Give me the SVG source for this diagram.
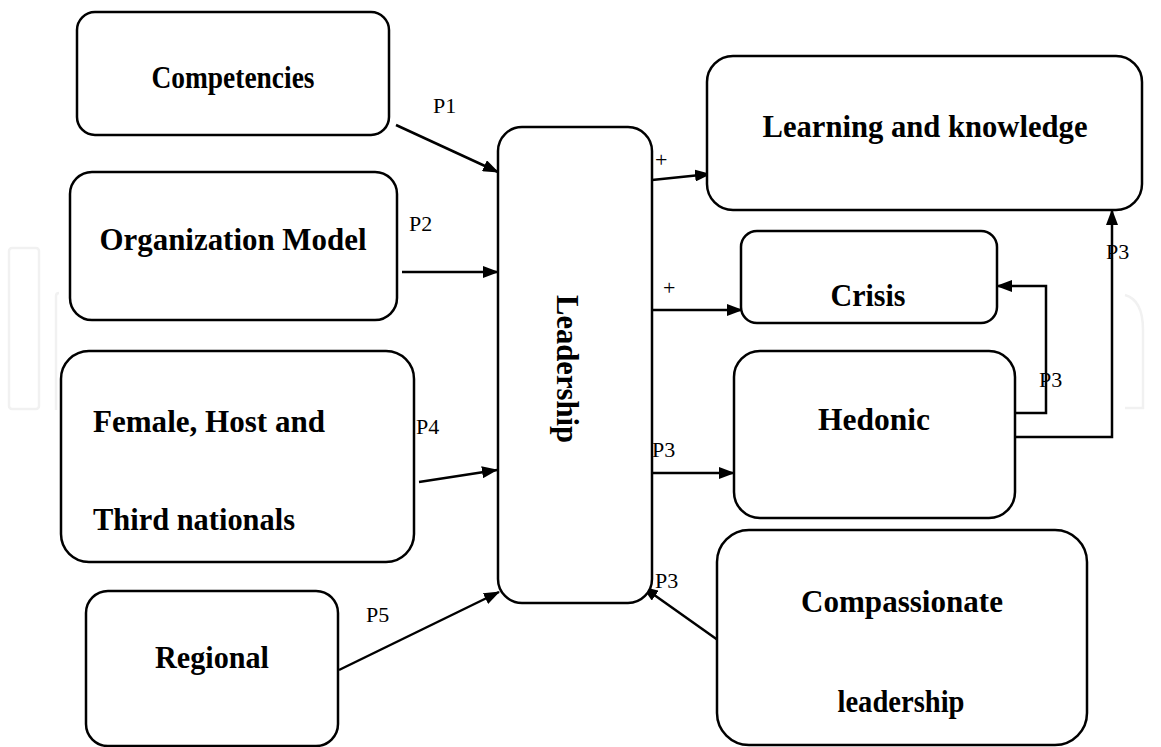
<svg xmlns="http://www.w3.org/2000/svg" width="1161" height="747" viewBox="0 0 1161 747">
  <style>
    .box { fill: #ffffff; stroke: #000000; stroke-width: 2.5; }
    .lbl { font-family: "Liberation Serif", "DejaVu Serif", "Noto Serif", serif; font-weight: bold; font-size: 32px; fill: #000000; }
    .mid { text-anchor: middle; }
    .tag { font-family: "Liberation Serif", "DejaVu Serif", "Noto Serif", serif; font-size: 22px; fill: #000000; }
    .wire { fill: none; stroke: #000000; stroke-width: 2.5; }
    .wm { fill: none; stroke: #f1f1f1; stroke-width: 2.5; }
  </style>
  <defs>
    <marker id="arrow" markerUnits="userSpaceOnUse" viewBox="0 0 16 12" markerWidth="16" markerHeight="12" refX="15" refY="6" orient="auto">
      <path d="M0,0 L16,6 L0,12 z" fill="#000000"/>
    </marker>
  </defs>

  <rect width="1161" height="747" fill="#ffffff"/>

  <!-- faint background logo strokes -->
  <g id="backdrop">
    <rect class="wm" x="9" y="248" width="30" height="161" rx="3"/>
    <path class="wm" d="M56,410 L56,296 Q56,293 59,293"/>
    <path class="wm" d="M1125,295 Q1143,300 1143,330 L1143,408 L1125,408"/>
  </g>

  <!-- connectors -->
  <g id="connectors">
    <line class="wire" x1="396" y1="125" x2="498" y2="172" marker-end="url(#arrow)"/>
    <line class="wire" x1="402" y1="272" x2="498" y2="272" marker-end="url(#arrow)"/>
    <line class="wire" x1="419" y1="482" x2="497" y2="470" marker-end="url(#arrow)"/>
    <line class="wire" x1="339" y1="670" x2="499" y2="592" marker-end="url(#arrow)"/>
    <line class="wire" x1="652" y1="180" x2="710" y2="174" marker-end="url(#arrow)"/>
    <line class="wire" x1="652" y1="310" x2="742" y2="310" marker-end="url(#arrow)"/>
    <line class="wire" x1="652" y1="473" x2="734" y2="473" marker-end="url(#arrow)"/>
    <line class="wire" x1="722" y1="643" x2="643" y2="587" marker-end="url(#arrow)"/>
    <polyline class="wire" points="1015,413 1046,413 1046,286 997,286" marker-end="url(#arrow)"/>
    <polyline class="wire" points="1015,437 1112,437 1112,210" marker-end="url(#arrow)"/>

    <text class="tag" x="433" y="113">P1</text>
    <text class="tag" x="409" y="231">P2</text>
    <text class="tag" x="416" y="434">P4</text>
    <text class="tag" x="366" y="622">P5</text>
    <text class="tag" x="655" y="167">+</text>
    <text class="tag" x="663" y="295">+</text>
    <text class="tag" x="652" y="457">P3</text>
    <text class="tag" x="655" y="588">P3</text>
    <text class="tag" x="1039" y="387">P3</text>
    <text class="tag" x="1106" y="259">P3</text>
  </g>

  <g id="competencies">
    <rect class="box" x="77" y="12" width="312" height="123" rx="18"/>
    <text class="lbl mid" x="233" y="88" textLength="163" lengthAdjust="spacingAndGlyphs">Competencies</text>
  </g>

  <g id="organization-model">
    <rect class="box" x="70" y="172" width="327" height="148" rx="22"/>
    <text class="lbl mid" x="233" y="250" textLength="267" lengthAdjust="spacingAndGlyphs">Organization Model</text>
  </g>

  <g id="female-host-third">
    <rect class="box" x="61" y="351" width="353" height="211" rx="28"/>
    <text class="lbl" x="93" y="432" textLength="232" lengthAdjust="spacingAndGlyphs">Female, Host and</text>
    <text class="lbl" x="93" y="530" textLength="202" lengthAdjust="spacingAndGlyphs">Third nationals</text>
  </g>

  <g id="regional">
    <rect class="box" x="86" y="591" width="252" height="155" rx="22"/>
    <text class="lbl mid" x="212" y="668" textLength="114" lengthAdjust="spacingAndGlyphs">Regional</text>
  </g>

  <g id="leadership">
    <rect class="box" x="498" y="127" width="154" height="476" rx="24"/>
    <text class="lbl mid" transform="translate(557,369) rotate(90)" x="0" y="0" textLength="148" lengthAdjust="spacingAndGlyphs">Leadership</text>
  </g>

  <g id="learning-knowledge">
    <rect class="box" x="707" y="56" width="435" height="154" rx="26"/>
    <text class="lbl mid" x="925" y="137" textLength="325" lengthAdjust="spacingAndGlyphs">Learning and knowledge</text>
  </g>

  <g id="crisis">
    <rect class="box" x="741" y="231" width="256" height="92" rx="16"/>
    <text class="lbl mid" x="868" y="306" textLength="75" lengthAdjust="spacingAndGlyphs">Crisis</text>
  </g>

  <g id="hedonic">
    <rect class="box" x="734" y="351" width="281" height="167" rx="26"/>
    <text class="lbl mid" x="874" y="430" textLength="112" lengthAdjust="spacingAndGlyphs">Hedonic</text>
  </g>

  <g id="compassionate-leadership">
    <rect class="box" x="717" y="530" width="370" height="215" rx="32"/>
    <text class="lbl mid" x="902" y="612" textLength="202" lengthAdjust="spacingAndGlyphs">Compassionate</text>
    <text class="lbl mid" x="901" y="712" textLength="127" lengthAdjust="spacingAndGlyphs">leadership</text>
  </g>
</svg>
